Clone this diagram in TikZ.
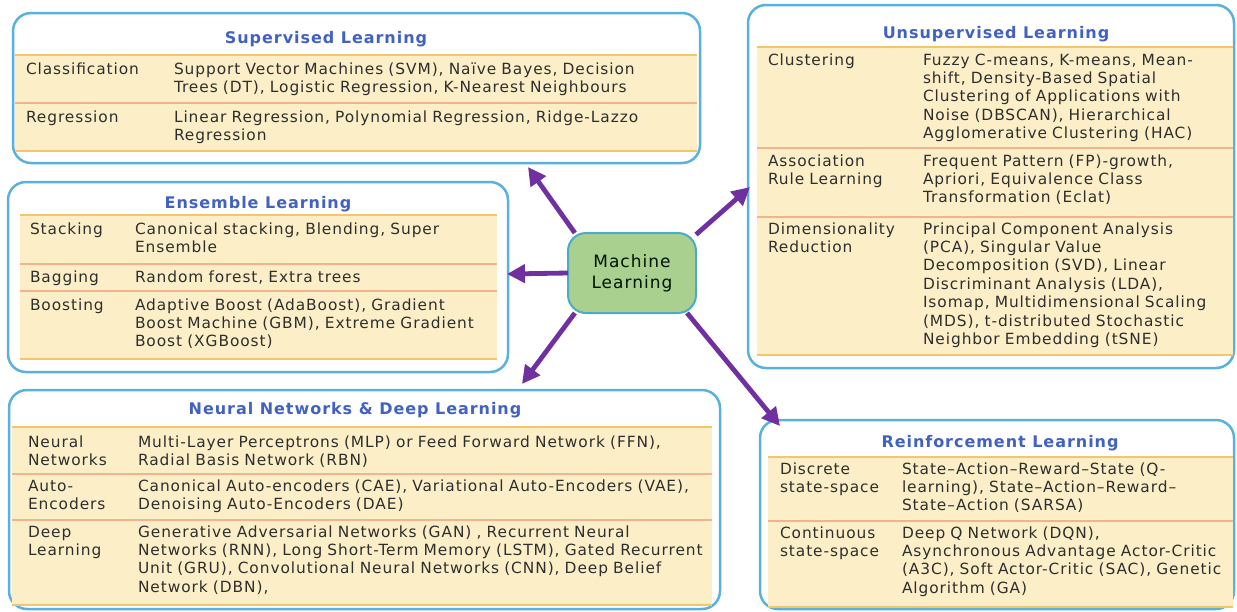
\documentclass[tikz,border=0pt]{standalone}
\usepackage{fontspec}
\setmainfont{DejaVu Sans}[LetterSpace=6]
\usetikzlibrary{arrows.meta}
\definecolor{boxblue}{HTML}{5AB2DC}
\definecolor{titleblue}{HTML}{4262C2}
\definecolor{tabfill}{HTML}{FCEFC8}
\definecolor{tabgold}{HTML}{F3C56C}
\definecolor{tabsep}{HTML}{F0B48E}
\definecolor{mlgreen}{HTML}{A9D08E}
\definecolor{mlborder}{HTML}{4BACC6}
\definecolor{arrpurple}{HTML}{7030A0}
\definecolor{txt}{HTML}{2E2E2E}
\newcommand\bodyfnt{\fontsize{15.4}{18.4}\selectfont}
\newcommand\ttlfnt{\fontsize{16}{19}\selectfont\bfseries}
\begin{document}
\begin{tikzpicture}[x=1pt,y=-1pt,
  every node/.style={inner sep=0pt,outer sep=0pt},
  panel/.style={draw=boxblue,line width=2.5pt,rounded corners=18pt,fill=white},
  tabbg/.style={fill=tabfill},
  goldline/.style={draw=tabgold,line width=1.8pt},
  sepline/.style={draw=tabsep,line width=1.5pt},
  cell/.style={anchor=base west,text width=620pt,align=left,text=txt,font=\bodyfnt},
  ttl/.style={anchor=base,text=titleblue,font=\ttlfnt},
  mlnode/.style={draw=mlborder,line width=2pt,fill=mlgreen,rounded corners=18pt,
     minimum width=128pt,minimum height=80pt,align=center,text=black!80!green!40!black,
     font=\fontsize{17}{21}\selectfont},
  arr/.style={draw=arrpurple,line width=4.8pt,-{Triangle[length=18pt,width=18pt]}}
]
\useasboundingbox[fill=white] (0,0) rectangle (1237,611);

% ---------- Supervised ----------
\draw[panel] (13,13) rectangle (700,163);
\fill[tabbg] (15,55) rectangle (697,151);
\draw[goldline] (15,55) -- (697,55);
\draw[sepline] (15,103) -- (697,103);
\draw[goldline] (15,151) -- (697,151);
\node[ttl] (supT) at (326,43) {Supervised Learning};
\node[cell] (supL1) at (26,74) {Classification};
\node[cell] (supC1) at (174,74) {Support Vector Machines (SVM), Naïve Bayes, Decision\\Trees (DT), Logistic Regression, K-Nearest Neighbours};
\node[cell] (supL2) at (26,122) {Regression};
\node[cell] (supC2) at (174,122) {Linear Regression, Polynomial Regression, Ridge-Lazzo\\Regression};

% ---------- Ensemble ----------
\draw[panel] (8,182) rectangle (508,372);
\fill[tabbg] (20,215) rectangle (497,359);
\draw[goldline] (20,215) -- (497,215);
\draw[sepline] (20,264) -- (497,264);
\draw[sepline] (20,291) -- (497,291);
\draw[goldline] (20,359) -- (497,359);
\node[ttl] (ensT) at (258,208) {Ensemble Learning};
\node[cell] (ensL1) at (30,234) {Stacking};
\node[cell] (ensC1) at (135,234) {Canonical stacking, Blending, Super\\Ensemble};
\node[cell] (ensL2) at (30,282) {Bagging};
\node[cell] (ensC2) at (135,282) {Random forest, Extra trees};
\node[cell] (ensL3) at (30,310) {Boosting};
\node[cell] (ensC3) at (135,310) {Adaptive Boost (AdaBoost), Gradient\\Boost Machine (GBM), Extreme Gradient\\Boost (XGBoost)};

% ---------- Unsupervised ----------
\draw[panel] (748,5) rectangle (1234,368);
\fill[tabbg] (757,47) rectangle (1233,355);
\draw[goldline] (757,47) -- (1233,47);
\draw[sepline] (757,148) -- (1233,148);
\draw[sepline] (757,217) -- (1233,217);
\draw[goldline] (757,355) -- (1233,355);
\node[ttl] (unsT) at (996,38) {Unsupervised Learning};
\node[cell] (unsL1) at (768,65) {Clustering};
\node[cell] (unsC1) at (923,65) {Fuzzy C-means, K-means, Mean-\\shift, Density-Based Spatial\\Clustering of Applications with\\Noise (DBSCAN), Hierarchical\\Agglomerative Clustering (HAC)};
\node[cell] (unsL2) at (768,166) {Association\\Rule Learning};
\node[cell] (unsC2) at (923,166) {Frequent Pattern (FP)-growth,\\Apriori, Equivalence Class\\Transformation (Eclat)};
\node[cell] (unsL3) at (768,234) {Dimensionality\\Reduction};
\node[cell] (unsC3) at (923,234) {Principal Component Analysis\\(PCA), Singular Value\\Decomposition (SVD), Linear\\Discriminant Analysis (LDA),\\Isomap, Multidimensional Scaling\\(MDS), t-distributed Stochastic\\Neighbor Embedding (tSNE)};

% ---------- Neural Networks ----------
\draw[panel] (9,390) rectangle (720,609);
\fill[tabbg] (12,427) rectangle (712,605);
\draw[goldline] (12,427) -- (712,427);
\draw[sepline] (12,474) -- (712,474);
\draw[sepline] (12,520) -- (712,520);
\draw[goldline] (12,605) -- (712,605);
\node[ttl] (nnT) at (355,414) {Neural Networks \& Deep Learning};
\node[cell] (nnL1) at (28,447) {Neural\\Networks};
\node[cell] (nnC1) at (138,447) {Multi-Layer Perceptrons (MLP) or Feed Forward Network (FFN),\\Radial Basis Network (RBN)};
\node[cell] (nnL2) at (28,491) {Auto-\\Encoders};
\node[cell] (nnC2) at (138,491) {Canonical Auto-encoders (CAE), Variational Auto-Encoders (VAE),\\Denoising Auto-Encoders (DAE)};
\node[cell] (nnL3) at (28,537) {Deep\\Learning};
\node[cell] (nnC3) at (138,537) {Generative Adversarial Networks (GAN) , Recurrent Neural\\Networks (RNN), Long Short-Term Memory (LSTM), Gated Recurrent\\Unit (GRU), Convolutional Neural Networks (CNN), Deep Belief\\Network (DBN),};

% ---------- Reinforcement ----------
\draw[panel] (760,420) rectangle (1234,609);
\fill[tabbg] (768,457) rectangle (1233,607);
\draw[goldline] (768,457) -- (1233,457);
\draw[sepline] (768,521) -- (1233,521);
\draw[goldline] (768,607) -- (1233,607);
\node[ttl] (rlT) at (1000,447) {Reinforcement Learning};
\node[cell] (rlL1) at (780,474) {Discrete\\state-space};
\node[cell] (rlC1) at (902,474) {State–Action–Reward–State (Q-\\learning), State–Action–Reward–\\State–Action (SARSA)};
\node[cell] (rlL2) at (780,538) {Continuous\\state-space};
\node[cell] (rlC2) at (902,538) {Deep Q Network (DQN),\\Asynchronous Advantage Actor-Critic\\(A3C), Soft Actor-Critic (SAC), Genetic\\Algorithm (GA)};

% ---------- Centre ----------
\node[mlnode] (ml) at (632,273) {Machine\\Learning};
\coordinate (tSup) at (528,167);
\coordinate (tEns) at (507,274);
\coordinate (tNN) at (522,384);
\coordinate (tUns) at (750,187);
\coordinate (tRL) at (780,426);
\draw[arr] (ml.145) -- (tSup);
\draw[arr] (ml.180) -- (tEns);
\draw[arr] (ml.215) -- (tNN);
\draw[arr] (ml.31) -- (tUns);
\draw[arr] (ml.324) -- (tRL);
\end{tikzpicture}
\end{document}
